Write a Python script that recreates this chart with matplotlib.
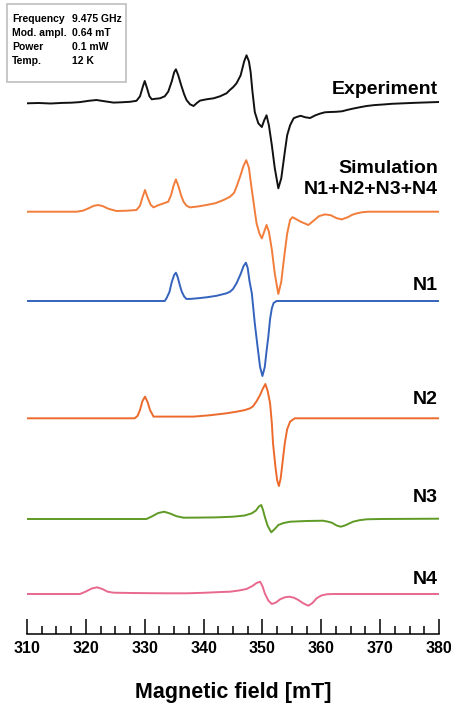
import matplotlib
matplotlib.use("Agg")
import matplotlib.pyplot as plt
from matplotlib.patches import Rectangle
from matplotlib.ticker import MultipleLocator

plt.rcParams["font.family"] = ["Liberation Sans", "DejaVu Sans"]

# spectra: field (mT) and derivative intensity (arb. units)
exp_field = [310.0, 312.0, 314.0, 316.0, 317.5, 319.0, 320.5, 321.8, 323.0, 324.7,
             326.0, 327.5, 328.6, 329.2, 329.7, 330.0, 330.4, 330.8, 331.2, 331.8,
             332.6, 333.4, 334.0, 334.6, 335.0, 335.3, 335.7, 336.2, 336.7, 337.1,
             337.7, 338.3, 338.9, 339.4, 340.5, 341.7, 342.8, 343.9, 344.5, 345.0,
             345.6, 346.3, 346.9, 347.3, 347.7, 348.0, 348.3, 348.7, 349.3, 349.9,
             350.3, 350.7, 351.1, 351.6, 352.1, 352.7, 353.2, 353.8, 354.2, 354.7,
             355.3, 355.8, 356.5, 357.3, 358.1, 359.0, 359.8, 360.6, 361.5, 362.5,
             363.5, 364.5, 365.4, 366.5, 367.7, 369.0, 370.5, 372.0, 374.0, 376.0,
             378.0, 380.0]
exp_signal = [0, 0.3, -0.2, 0.4, 0.6, 1.2, 2.5, 3.3, 2.2, 0.7,
              1.0, 1.5, 2.5, 7, 17, 22.3, 15, 7, 4, 4.5,
              5, 7, 11.7, 22, 31, 34, 28, 18, 9, 3.3,
              -1, -2.7, 0.5, 2.7, 4, 5, 7, 10, 13.5, 16,
              20, 28, 42, 48, 42, 31, 12, -8.7, -20, -23.7,
              -17, -12, -22, -42, -65, -85, -75, -48.7, -32, -22,
              -15, -13.7, -12.5, -14, -14.7, -12, -10.3, -9, -8.7, -8.5,
              -8, -6.5, -5.3, -4, -2.7, -1.8, -1.2, -0.5, 0, 0.5,
              0.9, 1.3]

sim_field = [310.0, 318.4, 319.5, 320.5, 321.3, 322.1, 322.9, 323.8, 325.2, 327.0,
             328.6, 329.2, 329.6, 330.05, 330.5, 331.0, 331.5, 332.3, 333.2, 334.0,
             334.5, 334.9, 335.3, 335.7, 336.2, 336.6, 337.1, 337.7, 339.0, 340.5,
             342.0, 343.4, 344.5, 345.2, 345.6, 346.2, 346.8, 347.25, 347.7, 348.2,
             348.6, 349.0, 349.5, 349.9, 350.3, 350.7, 351.1, 351.6, 352.1, 352.7,
             353.2, 353.7, 354.2, 354.7, 355.1, 355.5, 356.5, 357.8, 358.8, 359.6,
             360.6, 361.6, 362.6, 363.5, 364.5, 365.3, 366.0, 367.0, 368.0, 380.0]
sim_signal = [0, 0, 1.0, 3.5, 5.8, 6.7, 5.5, 3, 0.7, 1.0,
              1.7, 6, 14, 21.7, 14, 7, 4.3, 6.5, 8.3, 10,
              17, 26, 32.3, 26, 16, 10, 6, 4.3, 5.2, 6.7,
              8.5, 11.7, 15, 19, 25, 35, 46, 51.5, 44, 21.7,
              5, -11.7, -22, -26.7, -20, -13.3, -20, -38, -62, -82.3,
              -70, -45, -22, -8.3, -5.5, -6.7, -10, -13.3, -8.5, -4.5,
              -2.7, -3.5, -6.5, -7.7, -5.5, -3, -1.7, -0.5, 0, 0]

n1_field = [310.0, 333.4, 333.7, 334.2, 334.6, 335.0, 335.3, 335.6, 336.0, 336.3,
            336.7, 337.1, 338.0, 339.3, 340.5, 342.2, 343.9, 344.5, 345.0, 345.6,
            346.3, 346.8, 347.2, 347.5, 347.8, 348.2, 348.7, 349.2, 349.6, 350.0,
            350.4, 350.7, 351.0, 351.3, 351.6, 351.9, 352.4, 380.0]
n1_signal = [0, 0, 2.7, 9, 19, 26, 28.3, 24, 15, 9.3,
             4.5, 2, 2.2, 2.9, 3.7, 5.2, 7.7, 9.3, 12, 17.7,
             27, 35, 38.3, 33, 20, 7.7, -22.3, -47, -66, -75,
             -66, -50, -35.7, -18, -7.3, -2, 0, 0]

n2_field = [310.0, 328.3, 328.8, 329.2, 329.6, 330.05, 330.5, 330.9, 331.5, 335.0,
            338.3, 341.0, 343.9, 345.5, 347.0, 347.9, 348.4, 349.0, 349.6, 350.1,
            350.5, 350.9, 351.3, 351.6, 351.8, 352.2, 352.5, 352.8, 353.1, 353.4,
            353.8, 354.2, 354.7, 355.5, 380.0]
n2_signal = [0, 0, 2.5, 8.3, 17, 21.7, 16, 8.3, 1.7, 1.7,
             1.7, 3, 5, 6.5, 8.2, 10, 12, 17, 23.3, 30,
             34.3, 27, 15, -5, -25, -48, -62, -67.7, -60, -45,
             -25, -11, -3.3, 0, 0]

n3_field = [310.0, 330.3, 331.2, 332.3, 333.3, 334.3, 335.4, 336.6, 339.0, 342.0,
            345.0, 347.0, 348.2, 348.9, 349.4, 349.8, 350.1, 350.4, 350.9, 351.5,
            352.1, 352.7, 353.6, 354.7, 357.5, 360.3, 361.0, 361.8, 362.6, 363.3,
            364.0, 365.4, 366.5, 367.7, 370.0, 380.0]
n3_signal = [0, 0, 2.5, 6, 7.3, 5.5, 2.8, 1.3, 1.4, 1.6,
             2.3, 3.5, 5.7, 8.5, 12.5, 14, 9, 2.3, -7, -13.3,
             -10, -6, -4, -2.7, -2, -1.7, -2.5, -3.7, -6.5, -7.7,
             -6.5, -2.7, -1.2, -0.3, 0, 0.3]

n4_field = [310.0, 319.0, 320.0, 321.0, 321.9, 322.8, 323.7, 324.7, 328.0, 331.0,
            334.0, 337.1, 340.0, 343.0, 344.5, 346.0, 347.3, 348.3, 349.0, 349.6,
            350.0, 350.4, 351.0, 351.6, 352.3, 353.0, 353.8, 354.6, 355.4, 356.1,
            357.0, 357.8, 358.5, 359.2, 360.0, 360.9, 362.0, 380.0]
n4_signal = [0, 0, 2.5, 5.5, 6.7, 5, 2.3, 1.3, 1, 0.8,
             0.7, 0.7, 1.2, 2, 2.3, 3.5, 5, 8, 11, 12.3,
             8, 0.7, -6.5, -10, -8.5, -5.3, -3.3, -2.7, -3.8, -6,
             -9.5, -11.7, -9, -4.3, -1.5, -0.3, 0, 0]

labels = ["Experiment", "Simulation\nN1+N2+N3+N4", "N1", "N2", "N3", "N4"]
colors = ["#111111", "#f27d3a", "#3463bd", "#ec6a2c", "#5f9a25", "#e8688e"]

# vertical stacking of the traces and their labels
offsets = [530.7, 422.3, 333, 215.7, 115, 40]
label_y = [545, 455, 348, 234, 136, 54]

fig = plt.figure(figsize=(4.52, 7.06), dpi=100)
ax = fig.add_axes([27 / 452, 1 - 634 / 706, 412 / 452, 634 / 706])

traces = [(exp_field, exp_signal), (sim_field, sim_signal), (n1_field, n1_signal),
          (n2_field, n2_signal), (n3_field, n3_signal), (n4_field, n4_signal)]
for (x, y), off, c in zip(traces, offsets, colors):
    ax.plot(x, [v + off for v in y], color=c, linewidth=1.4, solid_joinstyle="round")

for lbl, ly in zip(labels, label_y):
    ax.text(379.8, ly, lbl, ha="right", va="center", fontsize=14,
            fontweight="bold", linespacing=1.3)

ax.set_xlim(310, 380)
ax.set_ylim(0, 634)
for s in ["top", "left", "right"]:
    ax.spines[s].set_visible(False)
ax.spines["bottom"].set_linewidth(1.1)
ax.set_yticks([])
ax.xaxis.set_major_locator(MultipleLocator(10))
ax.xaxis.set_minor_locator(MultipleLocator(2.5))
ax.tick_params(axis="x", which="major", direction="in", length=11, width=1.1,
               pad=5, labelsize=11.5)
ax.tick_params(axis="x", which="minor", direction="in", length=6, width=1.1)
for t in ax.get_xticklabels():
    t.set_fontweight("bold")
ax.set_xlabel("Magnetic field [mT]", fontsize=15.5, fontweight="bold", labelpad=19)
ax.patch.set_alpha(0)

# measurement parameters box
fig.patches.append(Rectangle((7 / 452, 1 - 82 / 706), 119 / 452, 78 / 706,
                             transform=fig.transFigure, facecolor="white",
                             edgecolor="#c4c4c4", linewidth=1.3))
params = [("Frequency", "9.475 GHz"), ("Mod. ampl.", "0.64 mT"),
          ("Power", "0.1 mW"), ("Temp.", "12 K")]
for i, (k, v) in enumerate(params):
    yy = 1 - (19 + 14 * i) / 706
    fig.text(12 / 452, yy, k, ha="left", va="center", fontsize=7.5, fontweight="bold")
    fig.text(72 / 452, yy, v, ha="left", va="center", fontsize=7.5, fontweight="bold")

fig.savefig("out.png", dpi=100)
